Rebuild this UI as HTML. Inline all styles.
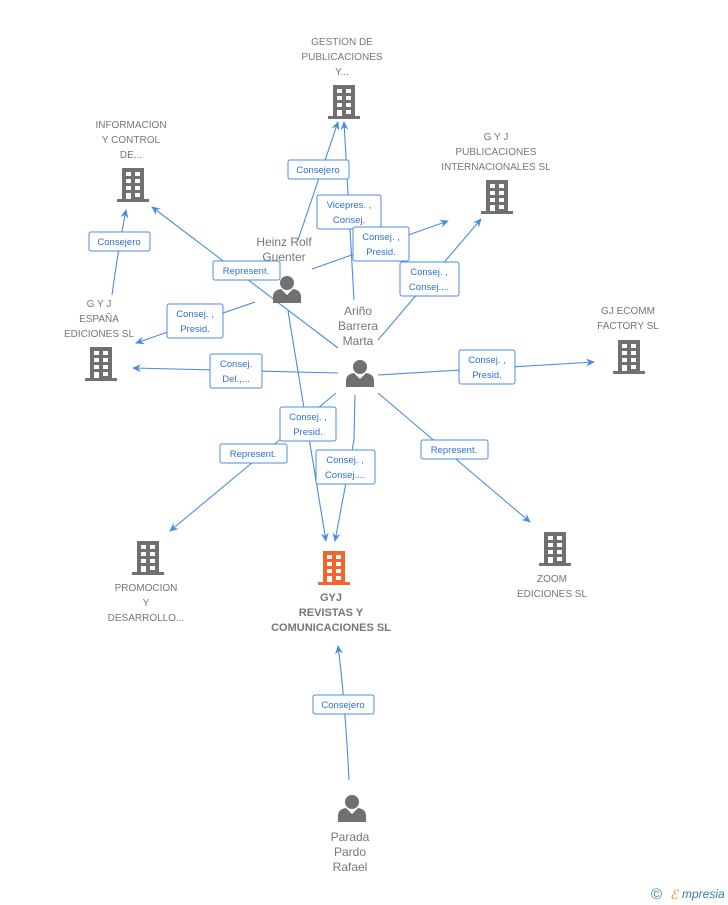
<!DOCTYPE html>
<html><head><meta charset="utf-8"><style>
body{margin:0;background:#fff;}
svg{display:block;font-family:"Liberation Sans",sans-serif;}
.n{font-size:10px;fill:#777;text-anchor:middle;}
.p{font-size:12px;fill:#777;text-anchor:middle;}
.l{font-size:9.5px;fill:#2f6fd6;text-anchor:middle;}
.bx{fill:#fff;stroke:#4a8de0;stroke-width:1;}
.ln{stroke:#4a8de0;stroke-width:1.1;fill:none;marker-end:url(#a);}
</style></head><body>
<svg width="728" height="905" viewBox="0 0 728 905">
<defs>
<marker id="a" markerWidth="10" markerHeight="10" refX="8" refY="5" orient="auto" markerUnits="userSpaceOnUse"><path d="M0,1 L9,5 L0,9 L3,5 Z" fill="#4a8de0"/></marker>
<g id="b"><rect x="-11" y="0" width="22" height="31"/><rect x="-16" y="31" width="32" height="3"/>
<g fill="#fff"><rect x="-7" y="4" width="5" height="4"/><rect x="2" y="4" width="5" height="4"/><rect x="-7" y="11" width="5" height="4"/><rect x="2" y="11" width="5" height="4"/><rect x="-7" y="18" width="5" height="4"/><rect x="2" y="18" width="5" height="4"/><rect x="-7" y="25" width="5" height="6"/><rect x="2" y="25" width="5" height="4"/></g></g>
<g id="pr" fill="#707070"><circle cx="0" cy="7" r="7"/><path d="M-14,27 L-14,21 Q-14,14 -6,13 L0,19 L6,13 Q14,14 14,21 L14,27 Z"/></g>
</defs>
<path class="ln" d="M298,240 L338,122"/>
<path class="ln" d="M354,300 L344,122"/>
<path class="ln" d="M312,269 L448,221"/>
<path class="ln" d="M378,340 L481,219"/>
<path class="ln" d="M338,348 L152,207"/>
<path class="ln" d="M112,295 Q118,250 126,210"/>
<path class="ln" d="M255,302 L136,343"/>
<path class="ln" d="M338,373 L133,368"/>
<path class="ln" d="M378,375 L594,362"/>
<path class="ln" d="M378,393 L530,522"/>
<path class="ln" d="M336,393 L170,531"/>
<path class="ln" d="M288,311 L326,541"/>
<path class="ln" d="M355,395 L354,440 L335,541"/>
<path class="ln" d="M349,780 Q345,700 338,646"/>
<use href="#b" x="344" y="85" fill="#707070"/>
<use href="#b" x="133" y="168" fill="#707070"/>
<use href="#b" x="497" y="180" fill="#707070"/>
<use href="#b" x="101" y="347" fill="#707070"/>
<use href="#b" x="629" y="340" fill="#707070"/>
<use href="#b" x="148" y="541" fill="#707070"/>
<use href="#b" x="555" y="532" fill="#707070"/>
<use href="#b" x="334" y="551" fill="#f26430"/>
<use href="#pr" x="287" y="276"/>
<use href="#pr" x="360" y="360"/>
<use href="#pr" x="352" y="795"/>
<text class="n"><tspan x="342" y="45">GESTION DE</tspan><tspan x="342" y="60">PUBLICACIONES</tspan><tspan x="342" y="75">Y...</tspan></text>
<text class="n"><tspan x="131" y="128">INFORMACION</tspan><tspan x="131" y="143">Y CONTROL</tspan><tspan x="131" y="158">DE...</tspan></text>
<text class="n"><tspan x="496" y="140">G Y J</tspan><tspan x="496" y="155">PUBLICACIONES</tspan><tspan x="496" y="170">INTERNACIONALES SL</tspan></text>
<text class="n"><tspan x="99" y="307">G Y J</tspan><tspan x="99" y="322">ESPAÑA</tspan><tspan x="99" y="337">EDICIONES SL</tspan></text>
<text class="n"><tspan x="628" y="314">GJ ECOMM</tspan><tspan x="628" y="329">FACTORY  SL</tspan></text>
<text class="n"><tspan x="146" y="591">PROMOCION</tspan><tspan x="146" y="606">Y</tspan><tspan x="146" y="621">DESARROLLO...</tspan></text>
<text class="n"><tspan x="552" y="582">ZOOM</tspan><tspan x="552" y="597">EDICIONES SL</tspan></text>
<text class="n" style="font-weight:bold;font-size:11px"><tspan x="331" y="601">GYJ</tspan><tspan x="331" y="616">REVISTAS Y</tspan><tspan x="331" y="631">COMUNICACIONES SL</tspan></text>
<text class="p"><tspan x="284" y="246">Heinz Rolf</tspan><tspan x="284" y="261">Guenter</tspan></text>
<text class="p"><tspan x="358" y="315">Ariño</tspan><tspan x="358" y="330">Barrera</tspan><tspan x="358" y="345">Marta</tspan></text>
<text class="p"><tspan x="350" y="841">Parada</tspan><tspan x="350" y="856">Pardo</tspan><tspan x="350" y="871">Rafael</tspan></text>
<rect class="bx" x="288" y="160" width="61" height="19" rx="2"/><text class="l" x="318" y="173">Consejero</text>
<rect class="bx" x="317" y="195" width="64" height="34" rx="2"/><text class="l"><tspan x="349" y="208">Vicepres. ,</tspan><tspan x="349" y="223">Consej.</tspan></text>
<rect class="bx" x="353" y="227" width="56" height="34" rx="2"/><text class="l"><tspan x="381" y="240">Consej. ,</tspan><tspan x="381" y="255">Presid.</tspan></text>
<rect class="bx" x="400" y="262" width="59" height="34" rx="2"/><text class="l"><tspan x="429" y="275">Consej. ,</tspan><tspan x="429" y="290">Consej....</tspan></text>
<rect class="bx" x="213" y="261" width="67" height="19" rx="2"/><text class="l" x="246" y="274">Represent.</text>
<rect class="bx" x="89" y="232" width="61" height="19" rx="2"/><text class="l" x="119" y="245">Consejero</text>
<rect class="bx" x="167" y="304" width="56" height="34" rx="2"/><text class="l"><tspan x="195" y="317">Consej. ,</tspan><tspan x="195" y="332">Presid.</tspan></text>
<rect class="bx" x="210" y="354" width="52" height="34" rx="2"/><text class="l"><tspan x="236" y="367">Consej.</tspan><tspan x="236" y="382">Del.,...</tspan></text>
<rect class="bx" x="459" y="350" width="56" height="34" rx="2"/><text class="l"><tspan x="487" y="363">Consej. ,</tspan><tspan x="487" y="378">Presid.</tspan></text>
<rect class="bx" x="421" y="440" width="67" height="19" rx="2"/><text class="l" x="454" y="453">Represent.</text>
<rect class="bx" x="280" y="407" width="56" height="34" rx="2"/><text class="l"><tspan x="308" y="420">Consej. ,</tspan><tspan x="308" y="435">Presid.</tspan></text>
<rect class="bx" x="220" y="444" width="67" height="19" rx="2"/><text class="l" x="253" y="457">Represent.</text>
<rect class="bx" x="316" y="450" width="59" height="34" rx="2"/><text class="l"><tspan x="345" y="463">Consej. ,</tspan><tspan x="345" y="478">Consej....</tspan></text>
<rect class="bx" x="313" y="695" width="61" height="19" rx="2"/><text class="l" x="343" y="708">Consejero</text>
<text x="651" y="899" style="font-size:15px;fill:#3a7ca0">©</text>
<text x="670" y="899" style="font-size:13px;fill:#f08a1c;font-style:italic;font-family:'Liberation Serif',serif">ℰ</text>
<text x="682" y="898" style="font-size:12px;fill:#3a7ca0;font-style:italic">mpresia</text>
</svg>
</body></html>
